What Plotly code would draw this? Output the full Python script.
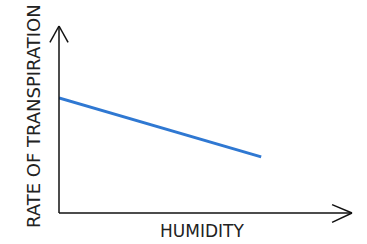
import plotly.graph_objects as go

humidity = [0, 69]
rate = [61.5, 30]
x_label = "HUMIDITY"
y_label = "RATE OF TRANSPIRATION"

fig = go.Figure()
fig.add_trace(go.Scatter(x=humidity, y=rate, mode="lines",
                         line=dict(color="#2f78d2", width=3), hoverinfo="skip"))

ax = dict(range=[0, 100], showgrid=False, zeroline=False, showticklabels=False,
          ticks="", showline=False, fixedrange=True)
fig.update_xaxes(**ax)
fig.update_yaxes(**ax)

lc = dict(color="#111111", width=1.5)
shapes = [
    # axes lines
    dict(type="line", xref="paper", yref="paper", x0=0, y0=0, x1=1.0, y1=0, line=lc),
    dict(type="line", xref="paper", yref="paper", x0=0, y0=0, x1=0, y1=1.0, line=lc),
    # y arrow head
    dict(type="line", xref="paper", yref="paper", x0=0, y0=1.0, x1=-0.031, y1=0.912, line=lc),
    dict(type="line", xref="paper", yref="paper", x0=0, y0=1.0, x1=0.031, y1=0.912, line=lc),
    # x arrow head
    dict(type="line", xref="paper", yref="paper", x0=1.0, y0=0, x1=0.932, y1=0.045, line=lc),
    dict(type="line", xref="paper", yref="paper", x0=1.0, y0=0, x1=0.932, y1=-0.05, line=lc),
]
fig.update_layout(shapes=shapes)

font = dict(family="DejaVu Sans", size=17, color="#222222")
fig.add_annotation(text=x_label, xref="paper", yref="paper", x=0.488, y=-0.096,
                   showarrow=False, font=font, xanchor="center", yanchor="middle")
fig.add_annotation(text=y_label, xref="paper", yref="paper", x=-0.085, y=0.519,
                   showarrow=False, font=dict(family="DejaVu Sans", size=18, color="#222222"),
                   textangle=-90, xanchor="center", yanchor="middle")

fig.update_layout(width=367, height=244, margin=dict(l=59, r=15, t=26, b=31),
                  paper_bgcolor="white", plot_bgcolor="white", showlegend=False)
fig.write_html("out.html", config={"displayModeBar": False})
